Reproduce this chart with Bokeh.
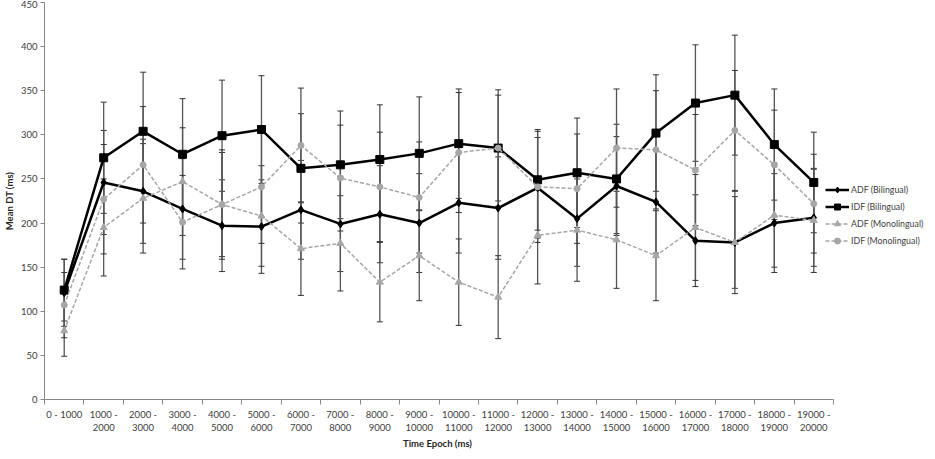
from bokeh.plotting import figure
from bokeh.models import ColumnDataSource, Whisker, TeeHead, FixedTicker, Range1d, Legend, LegendItem, Title
from bokeh.embed import file_html
from bokeh.resources import INLINE

epochs = ["0 - 1000", "1000 -\n2000", "2000 -\n3000", "3000 -\n4000", "4000 -\n5000",
          "5000 -\n6000", "6000 -\n7000", "7000 -\n8000", "8000 -\n9000", "9000 -\n10000",
          "10000 -\n11000", "11000 -\n12000", "12000 -\n13000", "13000 -\n14000",
          "14000 -\n15000", "15000 -\n16000", "16000 -\n17000", "17000 -\n18000",
          "18000 -\n19000", "19000 -\n20000"]

adf_bi = [121, 246, 236, 216, 197, 196, 215, 199, 210, 200, 223, 217, 240, 205, 242, 224, 180, 178, 200, 206]
idf_bi = [124, 274, 304, 278, 299, 306, 262, 266, 272, 279, 290, 285, 249, 257, 250, 302, 336, 345, 289, 246]
adf_mono = [78, 195, 228, 247, 221, 208, 171, 177, 133, 163, 133, 116, 186, 192, 181, 163, 195, 178, 209, 203]
idf_mono = [107, 227, 266, 201, 221, 241, 288, 251, 241, 229, 280, 285, 241, 239, 285, 283, 260, 305, 266, 222]

adf_bi_err = [38, 59, 59, 57, 52, 53, 56, 54, 55, 56, 57, 58, 57, 54, 56, 58, 52, 52, 56, 55]
idf_bi_err = [35, 63, 67, 63, 63, 61, 62, 61, 62, 64, 62, 66, 57, 62, 62, 66, 66, 68, 63, 57]
adf_mono_err = [29, 55, 62, 61, 59, 57, 53, 54, 45, 51, 49, 47, 55, 58, 55, 51, 60, 58, 59, 59]
idf_mono_err = [37, 62, 66, 53, 62, 64, 65, 60, 62, 63, 68, 60, 63, 62, 67, 67, 63, 68, 62, 56]

y_ticks = list(range(0, 451, 50))

FONT = "Lato"
TXT = "#404040"
AX = "#868686"
GRAY = "#A6A6A6"

CAT_W = 789          # pixel width of the category area
FW, FH = 882, 397    # full frame (category area + legend room)
BL, BT, BB = 37, 2, 44

n = len(epochs)
xs = [i + 0.5 for i in range(n)]
x_end = n * FW / CAT_W

p = figure(frame_width=FW, frame_height=FH, output_backend="svg", toolbar_location=None,
           x_range=Range1d(0, x_end), y_range=Range1d(0, 450),
           min_border_left=BL, min_border_right=0, min_border_top=BT, min_border_bottom=0)
p.outline_line_color = None
p.grid.visible = False
p.background_fill_color = "white"
p.border_fill_color = "white"

# axes
p.xaxis.bounds = (0, n)
p.xaxis.ticker = FixedTicker(ticks=xs, minor_ticks=list(range(n + 1)))
p.xaxis.major_label_overrides = {x: lab for x, lab in zip(xs, epochs)}
p.xaxis.major_tick_line_color = None
p.xaxis.minor_tick_line_color = AX
p.xaxis.minor_tick_out = 5
p.xaxis.minor_tick_in = 0
p.xaxis.major_label_standoff = 3

p.yaxis.ticker = FixedTicker(ticks=y_ticks)
p.yaxis.minor_tick_line_color = None
p.yaxis.major_tick_out = 4
p.yaxis.major_tick_in = 0
p.yaxis.major_tick_line_color = AX
p.yaxis.major_label_standoff = 3
p.yaxis.axis_label = "Mean DT (ms)"
p.yaxis.axis_label_standoff = 3

for ax in (p.xaxis[0], p.yaxis[0]):
    ax.axis_line_color = AX
    ax.major_label_text_font = FONT
    ax.major_label_text_font_size = "9.5px"
    ax.major_label_text_color = TXT
    ax.axis_label_text_font = FONT
    ax.axis_label_text_font_size = "9.5px"
    ax.axis_label_text_font_style = "bold"
    ax.axis_label_text_color = "#262626"

xtitle = Title(text="Time Epoch (ms)", align="left", offset=CAT_W / 2 - 36,
               text_font=FONT, text_font_size="9.5px", text_font_style="bold",
               text_color="#262626", standoff=1)
p.add_layout(xtitle, "below")

series = [
    ("ADF (Bilingual)", adf_bi, adf_bi_err, "black", "solid", 2.5, "diamond", 8),
    ("IDF (Bilingual)", idf_bi, idf_bi_err, "black", "solid", 2.5, "square", 8),
    ("ADF (Monolingual)", adf_mono, adf_mono_err, GRAY, "4 2", 1.5, "triangle", 7),
    ("IDF (Monolingual)", idf_mono, idf_mono_err, GRAY, "4 2", 1.5, "circle", 6),
]

for name, vals, errs, col, dash, lw, marker, size in series:
    src = ColumnDataSource(dict(x=xs, y=vals,
                                lo=[v - e for v, e in zip(vals, errs)],
                                hi=[v + e for v, e in zip(vals, errs)]))
    w = Whisker(source=src, base="x", upper="hi", lower="lo", dimension="height",
                line_color="#555555", line_width=1.3, level="underlay",
                upper_head=TeeHead(size=6, line_color="#333333", line_width=1),
                lower_head=TeeHead(size=6, line_color="#333333", line_width=1))
    p.add_layout(w)

items = []
for name, vals, errs, col, dash, lw, marker, size in series:
    src = ColumnDataSource(dict(x=xs, y=vals))
    r1 = p.line("x", "y", source=src, line_color=col, line_width=lw, line_dash=dash)
    r2 = p.scatter("x", "y", source=src, marker=marker, size=size,
                   fill_color=col, line_color=col)
    items.append(LegendItem(label=name, renderers=[r1, r2]))

legend = Legend(items=items, location=(CAT_W - 8, 151), margin=0, padding=2, spacing=2,
                glyph_width=24, glyph_height=15, label_height=15, label_standoff=2,
                label_text_font=FONT, label_text_font_size="8.8px",
                label_text_color=TXT, border_line_color=None,
                background_fill_alpha=0)
p.add_layout(legend)

open("out.html", "w").write(file_html(p, INLINE))
